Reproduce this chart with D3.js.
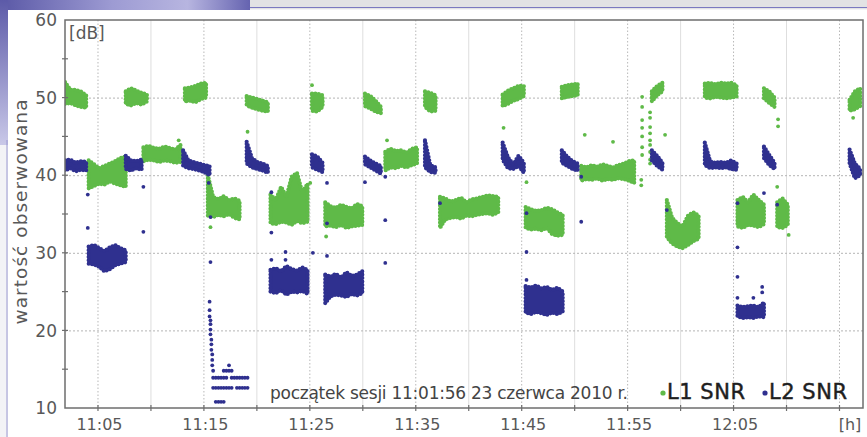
<!DOCTYPE html>
<html>
<head>
<meta charset="utf-8">
<script src="https://cdn.jsdelivr.net/npm/d3@7"></script>
<style>
  body { margin: 0; background: #fff; }
  svg { display: block; }
  text { font-family: "DejaVu Sans", Lato, sans-serif; }
</style>
</head>
<body>
<svg id="chart" width="867" height="437"></svg>
<script>
// axis values
var yTicks = [10, 20, 30, 40, 50, 60];
var xTickLabels = ["11:05", "11:15", "11:25", "11:35", "11:45", "11:55", "12:05"];
var sessionStart = "11:01:56";
var axisEnd = "12:17:16";

// SNR envelopes: [bin start, low values, high values], one pair every 30 s
var l1Bands = [
    ["11:01:56", [49.2, 49.3, 49.0, 48.8, 48.7], [52.0, 51.0, 51.0, 50.8, 50.3]],
    ["11:04:10", [38.3, 38.6, 38.9, 38.8, 39.2, 38.9, 38.7, 38.5], [41.9, 41.4, 40.9, 41.2, 41.5, 41.8, 42.2, 42.4]],
    ["11:07:40", [49.2, 49.0, 49.3, 49.1, 49.5], [50.8, 51.2, 50.9, 50.6, 50.4]],
    ["11:09:20", [41.8, 42.0, 41.9, 41.7, 41.9, 41.8, 41.6, 41.7], [43.6, 43.8, 43.5, 43.4, 43.7, 43.5, 43.3, 43.9]],
    ["11:13:15", [49.5, 49.6, 49.4, 49.8, 50.0], [51.2, 51.3, 51.5, 51.8, 51.9]],
    ["11:15:25", [34.8, 34.6, 34.9, 34.7, 35.0, 34.5, 34.3], [40.0, 37.2, 36.9, 37.3, 36.8, 37.0, 36.7]],
    ["11:19:05", [49.0, 48.7, 48.5, 48.3, 48.2], [50.2, 50.0, 49.8, 49.6, 49.4]],
    ["11:21:20", [33.8, 33.7, 34.0, 33.9, 33.6, 34.1, 33.8, 34.0], [37.5, 36.8, 38.5, 37.2, 39.8, 40.3, 37.8, 38.9]],
    ["11:25:15", [48.3, 48.2, 48.8], [50.5, 50.5, 50.3]],
    ["11:26:30", [33.4, 33.5, 33.3, 33.6, 33.2, 33.4, 33.5, 33.6], [36.5, 36.0, 35.8, 36.2, 35.9, 35.7, 36.3, 36.0]],
    ["11:30:15", [48.9, 48.6, 48.2, 48.0], [50.5, 50.2, 49.6, 48.8]],
    ["11:32:10", [40.6, 41.0, 40.9, 41.2, 41.0, 41.3, 41.5], [43.0, 43.4, 43.1, 43.2, 42.9, 43.4, 43.6]],
    ["11:35:55", [48.8, 48.2, 48.3], [50.8, 50.6, 50.3]],
    ["11:37:20", [33.2, 34.3, 34.5, 34.6, 34.4, 34.8, 34.7, 34.9, 35.0, 35.1, 34.9, 35.2], [37.2, 37.0, 36.6, 36.8, 37.1, 36.5, 36.9, 37.0, 37.2, 37.4, 37.3, 37.2]],
    ["11:43:15", [48.9, 49.2, 49.6, 49.8, 50.2], [50.4, 50.9, 51.2, 51.5, 51.5]],
    ["11:45:25", [33.2, 33.0, 33.1, 32.9, 33.2, 32.4, 32.2, 32.3], [35.9, 35.6, 35.4, 35.5, 35.8, 35.6, 35.2, 34.9]],
    ["11:48:50", [49.9, 50.1, 50.2, 50.3], [51.4, 51.6, 51.7, 51.8]],
    ["11:50:40", [39.3, 39.5, 39.4, 39.6, 39.3, 39.5, 39.4, 39.6, 39.5, 39.3, 39.0], [41.2, 41.0, 41.3, 41.1, 41.4, 41.2, 41.0, 41.3, 41.5, 41.8, 41.9]],
    ["11:57:20", [49.5, 50.3, 50.8], [50.8, 51.5, 51.9]],
    ["11:58:45", [32.0, 31.2, 30.8, 30.6, 31.0, 31.5, 31.8], [36.8, 34.5, 33.8, 33.4, 34.8, 35.2, 34.8]],
    ["12:02:20", [50.0, 49.9, 50.1, 50.0, 49.9, 50.0, 50.1], [51.8, 51.9, 51.7, 51.9, 51.8, 51.9, 51.6]],
    ["12:05:25", [33.4, 33.2, 33.6, 33.5, 33.3, 33.7], [36.8, 37.2, 36.5, 37.5, 36.8, 36.2]],
    ["12:07:55", [49.9, 49.3, 48.8], [51.2, 50.8, 50.0]],
    ["12:09:10", [33.3, 33.2, 33.6], [36.5, 37.0, 36.2]],
    ["12:16:00", [48.3, 48.5, 48.9], [49.7, 50.8, 51.2]]
];

var l2Bands = [
    ["11:01:56", [40.6, 40.9, 40.5, 40.7, 40.6], [41.9, 42.0, 41.6, 41.8, 41.7]],
    ["11:04:10", [28.6, 28.5, 28.2, 27.6, 27.9, 28.4, 28.6, 28.8], [30.8, 31.0, 30.6, 30.2, 30.7, 31.0, 30.6, 30.3]],
    ["11:07:40", [40.8, 40.6, 40.9, 40.7], [42.5, 41.9, 41.8, 42.0]],
    ["11:13:05", [41.2, 40.9, 40.8, 40.6, 40.4, 40.0], [43.2, 41.9, 41.7, 41.5, 41.3, 41.2]],
    ["11:19:05", [41.5, 41.0, 40.8, 40.6, 40.3], [44.3, 42.2, 41.7, 41.5, 41.2]],
    ["11:21:20", [25.0, 24.8, 25.2, 24.6, 25.0, 24.9, 25.1, 24.7], [27.8, 28.0, 27.6, 28.3, 27.9, 27.7, 28.1, 27.8]],
    ["11:25:15", [41.0, 40.7, 40.4], [42.7, 42.4, 41.6]],
    ["11:26:30", [23.5, 24.4, 24.6, 24.5, 24.3, 24.7, 24.5, 24.8], [27.2, 26.9, 27.3, 26.8, 27.5, 27.0, 27.2, 27.6]],
    ["11:30:15", [41.4, 41.0, 40.6, 40.2], [42.4, 41.9, 41.5, 41.2]],
    ["11:35:55", [41.0, 40.4, 40.3], [44.5, 41.3, 41.0]],
    ["11:43:15", [42.0, 40.9, 40.8, 41.2, 40.3], [44.2, 42.3, 41.4, 42.5, 41.6]],
    ["11:45:25", [22.3, 22.1, 22.4, 22.2, 22.0, 22.3, 22.1, 22.4], [25.7, 25.5, 25.8, 25.4, 25.6, 25.2, 25.5, 25.0]],
    ["11:48:50", [41.6, 41.2, 40.8, 40.6], [43.2, 42.4, 41.8, 41.5]],
    ["11:57:20", [41.9, 41.2, 40.7], [43.2, 42.5, 41.6]],
    ["12:02:20", [41.3, 40.9, 41.0, 40.9, 41.0, 40.8, 40.7], [44.2, 41.8, 41.6, 41.7, 41.6, 41.9, 41.5]],
    ["12:05:25", [21.8, 21.6, 21.7, 21.6, 21.8, 21.7], [23.2, 23.0, 23.1, 23.2, 23.0, 23.6]],
    ["12:07:55", [42.2, 41.3, 40.8], [43.7, 42.6, 41.6]],
    ["12:16:00", [41.5, 39.6, 40.0], [43.3, 41.5, 40.8]]
];

// single readings outside the bands: [time, dB]
var l1Dots = [
    ["11:12:40", 44.5], ["11:15:40", 33.3], ["11:19:10", 45.6], ["11:25:05", 39.0], ["11:25:15", 51.6],
    ["11:26:35", 32.1], ["11:32:20", 44.5], ["11:43:20", 46.1], ["11:45:30", 39.1], ["11:51:00", 45.2],
    ["11:53:40", 44.3], ["11:58:35", 45.2], ["12:09:15", 47.2], ["12:09:15", 46.3], ["12:09:10", 38.5],
    ["12:10:15", 32.3], ["12:16:20", 47.4],
    ["11:56:25", 50.1], ["11:56:25", 48.8], ["11:56:25", 47.1], ["11:56:25", 46.1], ["11:56:25", 45.0],
    ["11:56:25", 43.6], ["11:56:25", 42.6], ["11:56:20", 39.4], ["11:56:20", 38.7],
    ["11:57:10", 48.1], ["11:57:10", 47.4], ["11:57:10", 46.2], ["11:57:10", 45.4], ["11:57:10", 44.5],
    ["11:57:10", 43.9], ["11:57:10", 43.0], ["11:57:10", 42.0], ["11:57:10", 41.5]
];

var l2Dots = [
    ["11:04:05", 37.5], ["11:04:05", 33.2], ["11:09:20", 38.5], ["11:09:20", 32.7],
    ["11:15:30", 39.0], ["11:15:40", 34.6], ["11:15:40", 28.8],
    ["11:15:35", 23.7], ["11:15:35", 22.6], ["11:15:35", 21.8], ["11:15:40", 21.3], ["11:15:40", 20.8],
    ["11:15:40", 20.1], ["11:15:40", 19.5], ["11:15:45", 18.8], ["11:15:45", 18.2], ["11:15:45", 17.5],
    ["11:15:50", 16.9], ["11:15:50", 16.2], ["11:15:50", 15.5],
    ["11:15:55", 14.8], ["11:16:55", 14.8], ["11:17:10", 14.8], ["11:17:25", 14.8], ["11:17:40", 14.8], ["11:17:25", 15.5],
    ["11:15:55", 13.9], ["11:16:10", 13.9], ["11:16:25", 13.9], ["11:16:40", 13.9], ["11:16:55", 13.9],
    ["11:17:10", 13.9], ["11:17:40", 13.9], ["11:17:55", 13.9], ["11:18:10", 13.9],
    ["11:18:25", 13.9], ["11:18:40", 13.9], ["11:18:55", 13.9], ["11:19:10", 13.9],
    ["11:15:55", 12.6], ["11:16:10", 12.6], ["11:16:25", 12.6], ["11:16:40", 12.6], ["11:16:55", 12.6],
    ["11:17:10", 12.6], ["11:17:25", 12.6], ["11:17:40", 12.6], ["11:18:10", 12.6],
    ["11:18:25", 12.6], ["11:18:40", 12.6], ["11:18:55", 12.6], ["11:19:10", 12.6],
    ["11:16:10", 10.8], ["11:16:25", 10.8], ["11:16:40", 10.8], ["11:16:55", 10.8],
    ["11:21:25", 37.8], ["11:21:25", 32.6], ["11:21:25", 29.1], ["11:22:45", 30.1], ["11:22:45", 29.1],
    ["11:25:20", 30.0], ["11:26:40", 29.6], ["11:26:40", 33.8], ["11:26:40", 39.0],
    ["11:30:15", 39.1], ["11:32:10", 39.8], ["11:32:10", 34.2], ["11:32:10", 28.7], ["11:37:20", 36.4],
    ["11:45:30", 35.1], ["11:45:30", 30.1], ["11:45:30", 26.5], ["11:50:40", 34.0], ["11:50:40", 39.8],
    ["11:58:45", 35.5], ["12:05:25", 36.4], ["12:05:25", 30.7], ["12:05:25", 26.9], ["12:05:25", 24.2],
    ["12:06:55", 24.2], ["12:07:45", 25.6], ["12:07:45", 24.9], ["12:07:55", 37.7], ["12:09:10", 36.2]
];

var seriesNames = ["L1 SNR", "L2 SNR"];
var seriesColors = ["#5fba48", "#2f308f"];

var parse = d3.timeParse("%H:%M:%S");
var svg = d3.select("#chart");

// page decoration (scanned magazine frame)
var defs = svg.append("defs");
var topGrad = defs.append("linearGradient").attr("id", "topGrad");
topGrad.append("stop").attr("offset", "0%").attr("stop-color", "#5a58a6");
topGrad.append("stop").attr("offset", "45%").attr("stop-color", "#9d9bd3");
topGrad.append("stop").attr("offset", "75%").attr("stop-color", "#b7b5e0");
topGrad.append("stop").attr("offset", "100%").attr("stop-color", "#6563b0");
var sideGrad = defs.append("linearGradient").attr("id", "sideGrad")
    .attr("x1", 0).attr("x2", 0).attr("y1", 0).attr("y2", 1);
sideGrad.append("stop").attr("offset", "0%").attr("stop-color", "#5c5aa8");
sideGrad.append("stop").attr("offset", "100%").attr("stop-color", "#c9c8e8");

svg.append("rect").attr("width", 867).attr("height", 437).attr("fill", "#f3f3f6");
svg.append("rect").attr("x", 248).attr("width", 619).attr("height", 9).attr("fill", "#e2e2e4");
svg.append("line").attr("x1", 248).attr("x2", 867).attr("y1", 7.5).attr("y2", 7.5)
    .attr("stroke", "#7b79c0").attr("stroke-width", 1.2);
svg.append("rect").attr("width", 250).attr("height", 10).attr("fill", "url(#topGrad)");
svg.append("rect").attr("width", 8).attr("height", 145).attr("fill", "url(#sideGrad)");
svg.append("line").attr("x1", 7).attr("x2", 7).attr("y1", 140).attr("y2", 437)
    .attr("stroke", "#9a98d0").attr("stroke-width", 1);
svg.append("rect").attr("x", 8).attr("y", 10).attr("width", 859).attr("height", 427).attr("fill", "#fff");

// scales
var x = d3.scaleTime().domain([parse(sessionStart), parse(axisEnd)]).range([65, 863]);
var y = d3.scaleLinear().domain([10, 60]).range([408, 20]);

var fiveMin = d3.timeMinute.every(5).range(parse("11:05:00"), parse("12:15:30"));

// grid
svg.append("g").selectAll("line").data(fiveMin).enter().append("line")
    .attr("x1", function (d) { return x(d) + 0.5; })
    .attr("x2", function (d) { return x(d) + 0.5; })
    .attr("y1", 20).attr("y2", 408)
    .attr("stroke", function (d) { return (d.getMinutes() % 10 === 5) ? "#b8b8b8" : "#dedede"; })
    .attr("stroke-dasharray", function (d) { return (d.getMinutes() % 10 === 5) ? "1.5,2" : null; })
    .attr("stroke-width", 1);

svg.append("g").selectAll("line").data([20, 30, 40, 50]).enter().append("line")
    .attr("x1", 65).attr("x2", 863)
    .attr("y1", function (d) { return y(d) + 0.5; })
    .attr("y2", function (d) { return y(d) + 0.5; })
    .attr("stroke", "#b4b4b4").attr("stroke-dasharray", "2,2");

// data
defs.append("clipPath").attr("id", "plotClip").append("rect")
    .attr("x", 65).attr("y", 20).attr("width", 798).attr("height", 388);
var plot = svg.append("g").attr("clip-path", "url(#plotClip)");

var band = d3.area()
    .x(function (d) { return x(d.t); })
    .y0(function (d) { return y(d.lo); })
    .y1(function (d) { return y(d.hi); });

function drawSeries(bands, dots, color) {
    var segs = bands.map(function (b) {
        var t0 = parse(b[0]);
        return b[1].map(function (lo, i) {
            return { t: d3.timeSecond.offset(t0, i * 30), lo: lo, hi: b[2][i] };
        });
    });
    var g = plot.append("g");
    // filled envelope
    g.selectAll("path.fill").data(segs).enter().append("path")
        .attr("class", "fill")
        .attr("d", band)
        .attr("fill", color)
        .attr("stroke", color)
        .attr("stroke-width", 1.5)
        .attr("stroke-linejoin", "round");
    // beaded outline so the edges look like overlapping markers
    g.selectAll("path.edge").data(segs).enter().append("path")
        .attr("class", "edge")
        .attr("d", band)
        .attr("fill", "none")
        .attr("stroke", color)
        .attr("stroke-width", 4.2)
        .attr("stroke-linecap", "round")
        .attr("stroke-dasharray", "0,3.4");
    g.selectAll("circle").data(dots).enter().append("circle")
        .attr("cx", function (d) { return x(parse(d[0])); })
        .attr("cy", function (d) { return y(d[1]); })
        .attr("r", 1.9)
        .attr("fill", color);
}
drawSeries(l1Bands, l1Dots, seriesColors[0]);
drawSeries(l2Bands, l2Dots, seriesColors[1]);

// frame and ticks
svg.append("rect").attr("x", 65).attr("y", 20).attr("width", 798).attr("height", 388)
    .attr("fill", "none").attr("stroke", "#6e6e6e").attr("stroke-width", 1.5);

svg.append("g").selectAll("line").data(d3.range(15, 60, 5)).enter().append("line")
    .attr("x1", 62).attr("x2", 68)
    .attr("y1", function (d) { return y(d); })
    .attr("y2", function (d) { return y(d); })
    .attr("stroke", "#6e6e6e").attr("stroke-width", 1.2);

svg.append("g").selectAll("line").data(fiveMin).enter().append("line")
    .attr("x1", function (d) { return x(d) + 0.5; })
    .attr("x2", function (d) { return x(d) + 0.5; })
    .attr("y1", 405).attr("y2", 411)
    .attr("stroke", "#6e6e6e").attr("stroke-width", 1.2);

// tick labels
var tickFont = { size: 17, color: "#585858" };

svg.append("g").selectAll("text").data(yTicks).enter().append("text")
    .attr("x", 57).attr("y", function (d) { return y(d); })
    .attr("dy", "0.36em")
    .attr("text-anchor", "end")
    .attr("font-size", tickFont.size).attr("fill", tickFont.color)
    .text(function (d) { return d; });

svg.append("g").selectAll("text").data(xTickLabels).enter().append("text")
    .attr("x", function (d) { return x(parse(d + ":00")) + 2; })
    .attr("y", 430)
    .attr("text-anchor", "middle")
    .attr("font-size", 16).attr("fill", tickFont.color)
    .text(function (d) { return d; });

svg.append("text").attr("x", 850).attr("y", 430).attr("text-anchor", "middle")
    .attr("font-size", 16).attr("fill", tickFont.color).text("[h]");

svg.append("text").attr("x", 69).attr("y", 39)
    .attr("font-size", 17).attr("fill", tickFont.color).text("[dB]");

svg.append("text").attr("transform", "translate(27,212) rotate(-90)")
    .attr("text-anchor", "middle")
    .attr("font-size", 18.5).attr("fill", tickFont.color)
    .attr("textLength", 225)
    .text("wartość obserwowana");

svg.append("text").attr("x", 628).attr("y", 399).attr("text-anchor", "end")
    .attr("font-size", 17).attr("fill", "#444")
    .attr("textLength", 358)
    .text("początek sesji 11:01:56 23 czerwca 2010 r.");

// legend
var legend = svg.append("g").selectAll("g").data(seriesNames).enter().append("g")
    .attr("transform", function (d, i) { return "translate(" + (663 + i * 102) + ",399)"; });
legend.append("circle").attr("cx", 0).attr("cy", -6).attr("r", 2.6)
    .attr("fill", function (d, i) { return seriesColors[i]; });
legend.append("text").attr("x", 4).attr("y", 0)
    .attr("font-size", 21).attr("fill", "#1e1e1e")
    .attr("stroke", "#1e1e1e").attr("stroke-width", 0.45)
    .attr("textLength", 78)
    .text(function (d) { return d; });
</script>
</body>
</html>
